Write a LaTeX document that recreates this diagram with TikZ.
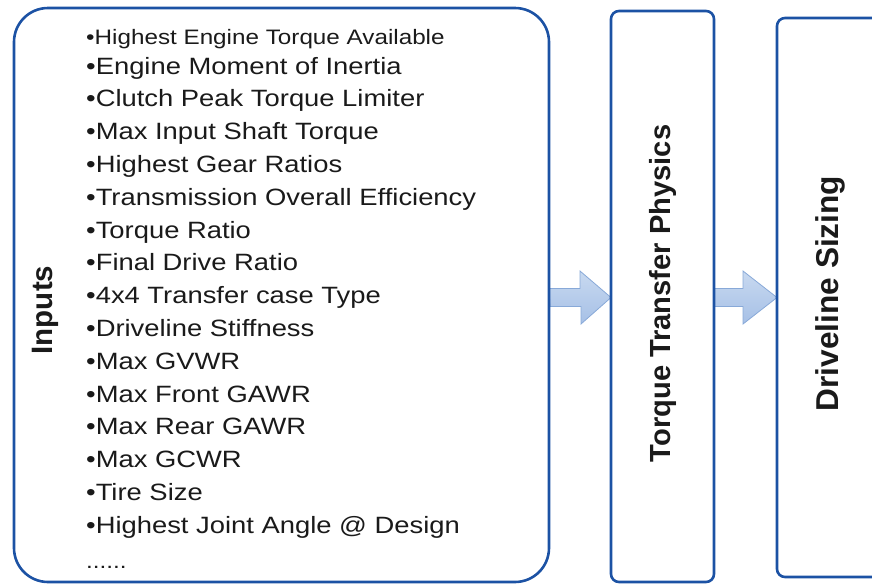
\documentclass[tikz,border=0pt]{standalone}
\usepackage{fontspec}
\setmainfont{Liberation Sans}
\newfontfamily\itemfont[FakeStretch=1.16]{Liberation Sans}
\usetikzlibrary{backgrounds}

\definecolor{boxblue}{HTML}{1C52A4}
\definecolor{arrowtop}{HTML}{C8D9F0}
\definecolor{arrowbot}{HTML}{A6C0E6}
\definecolor{arrowedge}{HTML}{88A9D8}
\definecolor{ink}{HTML}{1A1A1A}

\begin{document}
\begin{tikzpicture}[x=1pt, y=-1pt,
  panel/.style={draw=boxblue, line width=2.6pt, inner sep=0pt, outer sep=0pt,
                anchor=north west},
  blockarrow/.style={draw=arrowedge, line width=0.8pt, line join=miter,
                     top color=arrowtop, bottom color=arrowbot},
  item/.style={anchor=base west, inner sep=0pt, text=ink,
               font=\itemfont\fontsize{23.6}{28}\selectfont},
  smallitem/.style={item, font=\itemfont\fontsize{20.9}{24}\selectfont},
  title/.style={rotate=90, inner sep=0pt, text=ink}]

  \useasboundingbox (0,0) rectangle (872,584);

  % three stages
  \node[panel, rounded corners=34pt, minimum width=535pt, minimum height=574pt]
       (inputs) at (14,8) {};
  \node[panel, rounded corners=8pt, minimum width=103pt, minimum height=571pt]
       (physics) at (611,11) {};
  \node[panel, rounded corners=8pt, minimum width=108pt, minimum height=559pt]
       (sizing) at (777,18) {};

  % stage titles
  \node[title, font=\bfseries\fontsize{29.5}{34}\selectfont] (inputsT) at (45,310) {Inputs};
  \node[title, font=\bfseries\fontsize{29.1}{34}\selectfont] (physicsT) at (662.5,293.5) {Torque Transfer Physics};
  \node[title, font=\bfseries\fontsize{31.6}{36}\selectfont] (sizingT) at (830,293.5) {Driveline Sizing};

  % list of inputs
  \node[smallitem] (item0) at (86,44) {•Highest Engine Torque Available};
  \foreach \t [count=\i] in {
      Engine Moment of Inertia,
      Clutch Peak Torque Limiter,
      Max Input Shaft Torque,
      Highest Gear Ratios,
      Transmission Overall Efficiency,
      Torque Ratio,
      Final Drive Ratio,
      4x4 Transfer case Type,
      Driveline Stiffness,
      Max GVWR,
      Max Front GAWR,
      Max Rear GAWR,
      Max GCWR,
      Tire Size,
      Highest Joint Angle @ Design}
    \node[item] (item\i) at (86,{74+(\i-1)*32.8}) {•\t};
  \node[smallitem] (itemdots) at (86,568) {......};

  % block arrows between the stages
  \coordinate (t1) at (inputs.east |- 0,297.5);
  \coordinate (t2) at (physics.east |- 0,297.5);
  \begin{pgfonlayer}{background}
    \draw[blockarrow] (t1) ++(0,-9) -- ++(31,0) -- ++(0,-17.5)
       -- (physics.west |- t1) -- ++(-30,26.5) -- ++(0,-17.5) -- ++(-31,0) -- cycle;
    \draw[blockarrow] (t2) ++(0,-9) -- ++(29,0) -- ++(0,-17.5)
       -- (sizing.west |- t2) -- ++(-34,26.5) -- ++(0,-17.5) -- ++(-29,0) -- cycle;
  \end{pgfonlayer}
\end{tikzpicture}
\end{document}
